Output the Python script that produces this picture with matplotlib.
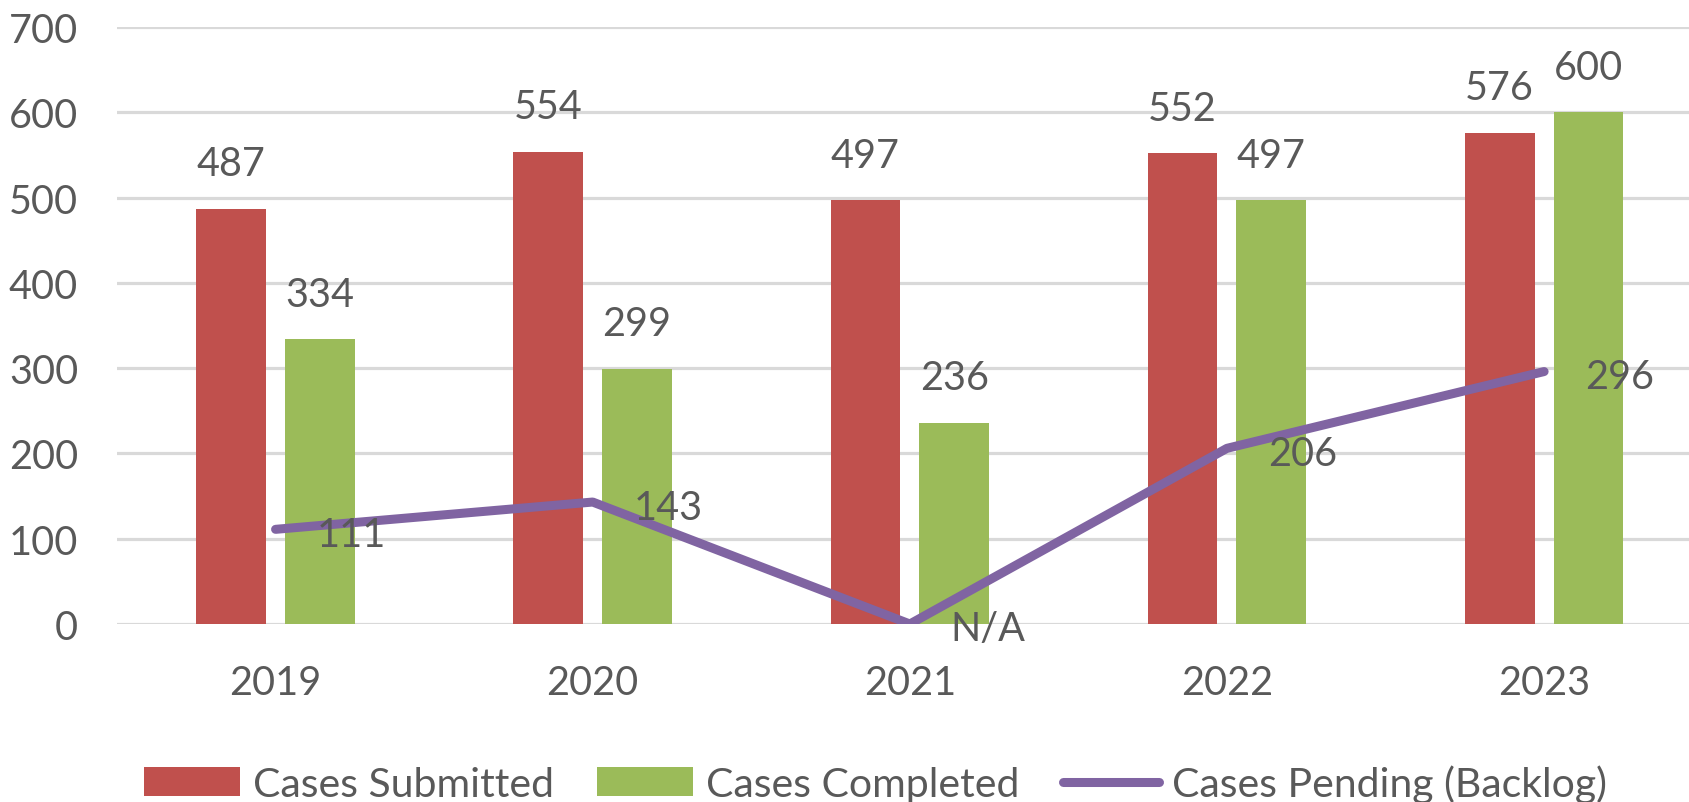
import matplotlib
matplotlib.use("Agg")
import numpy as np
import matplotlib.pyplot as plt

plt.rcParams['font.family'] = ['Lato', 'DejaVu Sans']

# data
years = ['2019', '2020', '2021', '2022', '2023']
submitted = [487, 554, 497, 552, 576]
completed = [334, 299, 236, 497, 600]
pending = [111, 143, 0, 206, 296]
pending_labels = ['111', '143', 'N/A', '206', '296']

red = '#C0504D'
green = '#9BBB59'
purple = '#8064A2'
txt = '#595959'
fs = 28.5

W, H = 1690, 803
fig = plt.figure(figsize=(W / 100, H / 100), dpi=100)
ax = fig.add_axes([117 / W, (H - 625) / H, (W - 117) / W, (625 - 28) / H])

x = np.arange(len(years))
bw = 0.22
off = 0.14
b1 = ax.bar(x - off, submitted, bw, color=red, label='Cases Submitted', zorder=2)
b2 = ax.bar(x + off, completed, bw, color=green, label='Cases Completed', zorder=2)
ln, = ax.plot(x, pending, color=purple, lw=6.5, solid_capstyle='round',
              solid_joinstyle='round', label='Cases Pending (Backlog)', zorder=3)

for xi, v in zip(x - off, submitted):
    ax.annotate(str(v), (xi, v), xytext=(0, 45), textcoords='offset pixels',
                ha='center', va='center', fontsize=fs, color=txt)
for xi, v in zip(x + off, completed):
    ax.annotate(str(v), (xi, v), xytext=(0, 45), textcoords='offset pixels',
                ha='center', va='center', fontsize=fs, color=txt)
for xi, v, s in zip(x, pending, pending_labels):
    ax.annotate(s, (xi, v), xytext=(41, -5), textcoords='offset pixels',
                ha='left', va='center', fontsize=fs, color=txt, zorder=4)

ax.set_xlim(-0.5, 4.46)
ax.set_ylim(0, 700)
ax.set_yticks(range(0, 701, 100))
ax.set_xticks(x)
ax.set_xticklabels(years)
ax.yaxis.grid(True, color='#D9D9D9', lw=2.3, zorder=0)
ax.set_axisbelow(True)
for s in ax.spines.values():
    s.set_visible(False)
ax.tick_params(axis='both', length=0, labelsize=fs, labelcolor=txt)
ax.tick_params(axis='y', pad=28)
ax.tick_params(axis='x', pad=29)

fig.legend(handles=[b1, b2, ln], loc='center', bbox_to_anchor=(0.518, 0.023),
           ncol=3, frameon=False, fontsize=29.5, labelcolor=txt,
           handlelength=2.35, handleheight=0.68, handletextpad=0.32,
           columnspacing=1.05, borderpad=0)

fig.savefig('out.png', dpi=100)
